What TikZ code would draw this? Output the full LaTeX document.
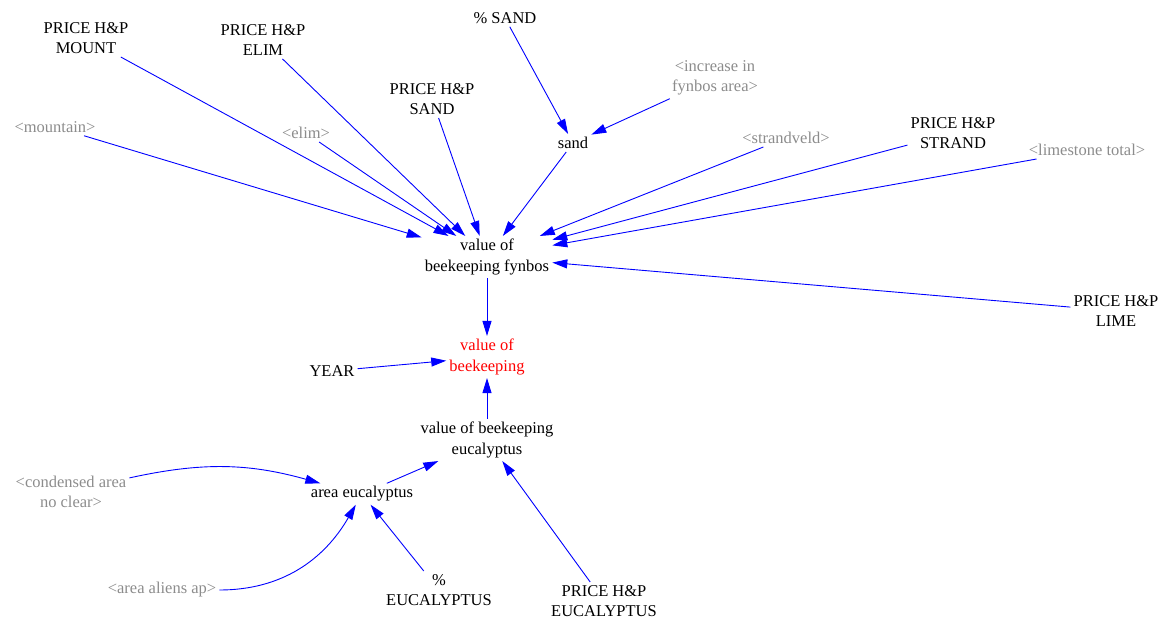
\documentclass[tikz,border=0pt]{standalone}
\usepackage{fontspec}
\setmainfont{Liberation Serif}
\usetikzlibrary{arrows.meta}
\definecolor{shadow}{RGB}{140,140,140}
\definecolor{flow}{RGB}{0,0,255}
\definecolor{goal}{RGB}{255,0,0}
\begin{document}
\begin{tikzpicture}[x=1pt,y=-1pt,
  every node/.style={align=center,inner sep=3pt,font=\fontsize{16.5}{20.5}\selectfont},
  var/.style={text=black},
  shadowvar/.style={text=shadow},
  goalvar/.style={text=goal},
  link/.style={draw=flow,line width=0.9pt,-{Triangle[length=15pt,width=9pt]}}]
\useasboundingbox (0,0) rectangle (1170,622);
% variables
\node[var] (pmount) at (86,38) {PRICE H\&P\\MOUNT};
\node[var] (pelim) at (263,40) {PRICE H\&P\\ELIM};
\node[var] (psand) at (505,18) {\% SAND};
\node[shadowvar] (incr) at (715,78) {<increase in\\fynbos area>};
\node[var] (ppsand) at (432,99) {PRICE H\&P\\SAND};
\node[shadowvar] (mount) at (55,127) {<mountain>};
\node[shadowvar] (elim) at (306,133) {<elim>};
\node[var] (sand) at (573,143) {sand};
\node[shadowvar] (strand) at (786,138) {<strandveld>};
\node[var] (pstrand) at (953,133) {PRICE H\&P\\STRAND};
\node[shadowvar] (lime) at (1087,150) {<limestone total>};
\node[var] (fynbos) at (487,257) {value of\\beekeeping fynbos};
\node[var] (plime) at (1116,311) {PRICE H\&P\\LIME};
\node[var] (year) at (332,371) {YEAR};
\node[goalvar] (value) at (487,357) {value of\\beekeeping};
\node[var] (euc) at (487,440) {value of beekeeping\\eucalyptus};
\node[shadowvar] (cond) at (71,492) {<condensed area\\no clear>};
\node[var] (areaeuc) at (362,494) {area eucalyptus};
\node[shadowvar] (aliens) at (162,590) {<area aliens ap>};
\node[var] (peuc) at (439,590) {\%\\EUCALYPTUS};
\node[var] (ppeuc) at (604,601) {PRICE H\&P\\EUCALYPTUS};
% links
\draw[link] (pmount) -- (fynbos);
\draw[link] (pelim) -- (fynbos);
\draw[link] (mount) -- (fynbos);
\draw[link] (elim) -- (fynbos);
\draw[link] (ppsand) -- (fynbos);
\draw[link] (sand) -- (fynbos);
\draw[link] (psand) -- (sand);
\draw[link] (incr) -- (sand);
\draw[link] (strand) -- (fynbos);
\draw[link] (pstrand) -- (fynbos);
\draw[link] (lime) -- (fynbos);
\draw[link] (plime) -- (fynbos);
\draw[link] (fynbos) -- (value);
\draw[link] (year) -- (value);
\draw[link] (euc) -- (value);
\draw[link] (areaeuc) -- (euc);
\draw[link] (cond) to[bend left=14] (areaeuc);
\draw[link] (aliens) to[out=0,in=-120] (areaeuc);
\draw[link] (peuc) -- (areaeuc);
\draw[link] (ppeuc) -- (euc);
\end{tikzpicture}
\end{document}
